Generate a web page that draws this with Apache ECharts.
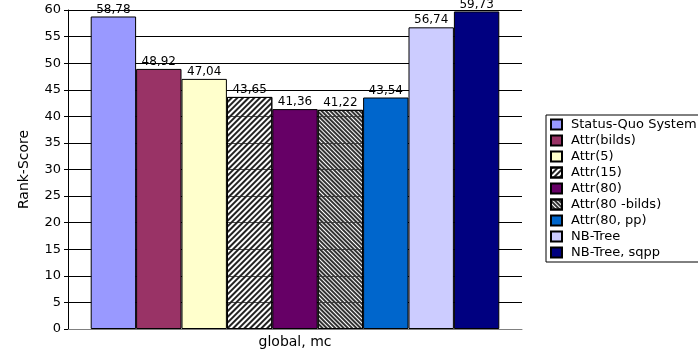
<!DOCTYPE html>
<html>
<head>
<meta charset="utf-8">
<script src="https://cdn.jsdelivr.net/npm/echarts@6/dist/echarts.min.js"></script>
<style>
  html, body { margin: 0; padding: 0; background: #fff; }
  #chart { width: 698px; height: 353px; }
</style>
</head>
<body>
<div id="chart"></div>
<script>
// data
var categories = ['global, mc']
var seriesNames = ['Status-Quo System', 'Attr(bilds)', 'Attr(5)', 'Attr(15)', 'Attr(80)',
  'Attr(80 -bilds)', 'Attr(80, pp)', 'NB-Tree', 'NB-Tree, sqpp']
var values = [58.78, 48.92, 47.04, 43.65, 41.36, 41.22, 43.54, 56.74, 59.73]

var palette = ['#9999FF', '#993366', '#FFFFCC', null, '#660066', null, '#0066CC', '#CCCCFF', '#000080']

// hatch patterns for the two textured bars
var hatches = {
  3: { symbol: 'rect', symbolSize: 1, dashArrayX: [1, 0], dashArrayY: [1.6, 1.4], rotation: -Math.PI / 4, color: '#222', backgroundColor: 'rgba(255,255,255,0)' },
  5: { symbol: 'rect', symbolSize: 1, dashArrayX: [1, 0], dashArrayY: [1.1, 1], rotation: Math.PI / 4, color: '#333', backgroundColor: 'rgba(255,255,255,0)' }
}

var font = 'DejaVu Sans'
var chart = echarts.init(document.getElementById('chart'))

var series = seriesNames.map(function (name, i) {
  var style = { borderColor: '#000', borderWidth: 1 }
  if (hatches[i]) {
    style.color = 'rgba(255,255,255,0.3)'
    style.decal = hatches[i]
  } else {
    style.color = palette[i]
  }
  return {
    name: name,
    type: 'bar',
    barGap: '0%',
    barCategoryGap: '10%',
    data: [values[i]],
    itemStyle: style,
    label: {
      show: true,
      position: 'top',
      distance: 1,
      color: '#000',
      fontFamily: font,
      fontSize: 12,
      formatter: function (p) {
        return p.value.toFixed(2).replace('.', ',')
      }
    }
  }
})

chart.setOption({
  animation: false,
  textStyle: { fontFamily: font },
  grid: { left: 68, right: 176, top: 10, bottom: 24 },
  legend: {
    orient: 'vertical',
    left: 546,
    top: 115,
    icon: 'rect',
    itemWidth: 11,
    itemHeight: 10,
    itemGap: 3,
    padding: [3, 40, 3, 4],
    borderColor: '#000',
    borderWidth: 1,
    data: seriesNames,
    textStyle: { fontFamily: font, fontSize: 13, color: '#000', padding: [0, 0, 0, 4] }
  },
  xAxis: {
    type: 'category',
    data: categories,
    axisLine: { lineStyle: { color: '#808080', width: 1 } },
    axisTick: { show: false },
    axisLabel: { color: '#000', fontFamily: font, fontSize: 14, margin: 6 }
  },
  yAxis: {
    type: 'value',
    min: 0,
    max: 60,
    interval: 5,
    name: 'Rank-Score',
    nameLocation: 'middle',
    nameGap: 37,
    nameTextStyle: { color: '#000', fontFamily: font, fontSize: 14 },
    axisLine: { show: true, lineStyle: { color: '#000' } },
    axisTick: { show: true, length: 4, lineStyle: { color: '#000' } },
    axisLabel: { color: '#000', fontFamily: font, fontSize: 13, margin: 7 },
    splitLine: { lineStyle: { color: '#000', width: 1 } }
  },
  series: series
})
</script>
</body>
</html>
